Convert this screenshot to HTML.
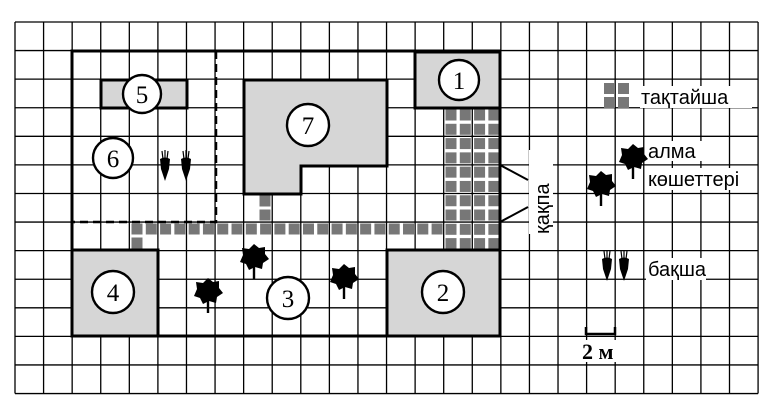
<!DOCTYPE html>
<html><head><meta charset="utf-8"><style>
html,body{margin:0;padding:0;background:#fff;width:772px;height:408px;overflow:hidden}
svg{display:block}
text{font-family:"Liberation Serif",serif}
text.s,.s text{font-family:"Liberation Sans","DejaVu Sans",sans-serif}
</style></head><body>
<svg id="g" width="772" height="408" viewBox="0 0 772 408" xmlns="http://www.w3.org/2000/svg">
<defs>
<g id="tree"><path d="M0,-14 L5,-10 L11,-11 L11,-4 L15,1 L9,5 L8,11 L1,9 L-5,12 L-8,6 L-14,4 L-11,-3 L-12,-10 L-5,-9 Z" fill="#000"/><rect x="-1.2" y="5" width="2.4" height="16" fill="#000"/></g>
<g id="car"><path d="M-5,-6 Q0,-9 5,-6 L4,4 L0,16 L-4,4 Z" fill="#000"/><path d="M-2,-6 L-3,-14 M0,-6 L0,-15 M2,-6 L3,-14" stroke="#000" stroke-width="1.2" fill="none"/></g>
</defs>
<g id="grid" stroke="#000" stroke-width="1.3"></g>
<g id="tiles" fill="#777"></g>
<g fill="#d6d6d6" stroke="#000" stroke-width="3">
<rect x="101" y="80" width="86" height="28"/>
<path d="M244,80 H387 V166 H301 V194 H244 Z"/>
<rect x="415" y="52" width="85" height="56"/>
<rect x="72" y="250" width="86" height="86"/>
<rect x="387" y="250" width="113" height="86"/>
</g>
<rect x="72" y="51" width="428" height="285" fill="none" stroke="#000" stroke-width="3"/>
<path d="M216,51 V222 H72" fill="none" stroke="#000" stroke-width="2.5" stroke-dasharray="8,5"/>
<path d="M500,165 L528,180 M500,222 L528,207" stroke="#000" stroke-width="2"/>
<rect x="529" y="150" width="24" height="84" fill="#fff"/>
<text class="s" x="0" y="0" font-size="20" transform="translate(549,234) rotate(-90)">қақпа</text>
<g fill="#fff" stroke="#000" stroke-width="2.4">
<circle cx="142" cy="94" r="19"/><circle cx="113" cy="158" r="20"/><circle cx="308" cy="125" r="21"/>
<circle cx="459" cy="80" r="20"/><circle cx="113" cy="292" r="21"/><circle cx="288" cy="298" r="21"/><circle cx="443" cy="292" r="21"/>
</g>
<g font-size="25" text-anchor="middle">
<text x="142" y="103">5</text><text x="113" y="167">6</text><text x="308" y="134">7</text><text x="459" y="89">1</text>
<text x="113" y="301">4</text><text x="288" y="307">3</text><text x="443" y="301">2</text>
</g>
<use href="#tree" x="208" y="292"/><use href="#tree" x="254" y="258"/><use href="#tree" x="344" y="278"/>
<use href="#tree" x="601" y="185"/><use href="#tree" x="633" y="158"/>
<use href="#car" x="165" y="165"/><use href="#car" x="186" y="165"/>
<use href="#car" x="607" y="265"/><use href="#car" x="624" y="265"/>
<g fill="#777"><rect x="604" y="83" width="11" height="11"/><rect x="618" y="83" width="11" height="11"/><rect x="604" y="97" width="11" height="11"/><rect x="618" y="97" width="11" height="11"/></g>
<g class="s" font-size="20">
<rect x="640" y="86" width="112" height="22" fill="#fff"/><text x="641" y="104">тақтайша</text>
<rect x="648" y="141" width="58" height="20" fill="#fff"/><text x="648" y="158">алма</text>
<rect x="648" y="168" width="108" height="22" fill="#fff"/><text x="648" y="186">көшеттері</text>
<rect x="646" y="258" width="60" height="22" fill="#fff"/><text x="648" y="276">бақша</text>
</g>
<path d="M586,327 V334 H615 V327" fill="none" stroke="#000" stroke-width="2.5"/>
<rect x="580" y="340" width="42" height="22" fill="#fff"/>
<text x="582" y="359" font-size="22" font-weight="bold">2 м</text>
</svg>
<script>
var s=28.58,ox=15,oy=22,G=document.getElementById('grid'),T=document.getElementById('tiles'),ns='http://www.w3.org/2000/svg';
function L(a,b,c,d){var l=document.createElementNS(ns,'line');l.setAttribute('x1',a);l.setAttribute('y1',b);l.setAttribute('x2',c);l.setAttribute('y2',d);G.appendChild(l);}
for(var i=0;i<=26;i++)L(ox+i*s,oy,ox+i*s,oy+13*s);
for(var j=0;j<=13;j++)L(ox,oy+j*s,ox+26*s,oy+j*s);
function R(x,y){var r=document.createElementNS(ns,'rect');r.setAttribute('x',x);r.setAttribute('y',y);r.setAttribute('width',11);r.setAttribute('height',11);T.appendChild(r);}
var h=s/2;
for(var c=0;c<4;c++)for(var r=0;r<10;r++)R(444+c*h+1.5,108+r*h+1.5);
for(var x=130;x<440;x+=h)R(x+1.5,223.5);
R(131.5,237.5);R(259.5,195.5);R(259.5,209.5);
</script>
</body></html>
